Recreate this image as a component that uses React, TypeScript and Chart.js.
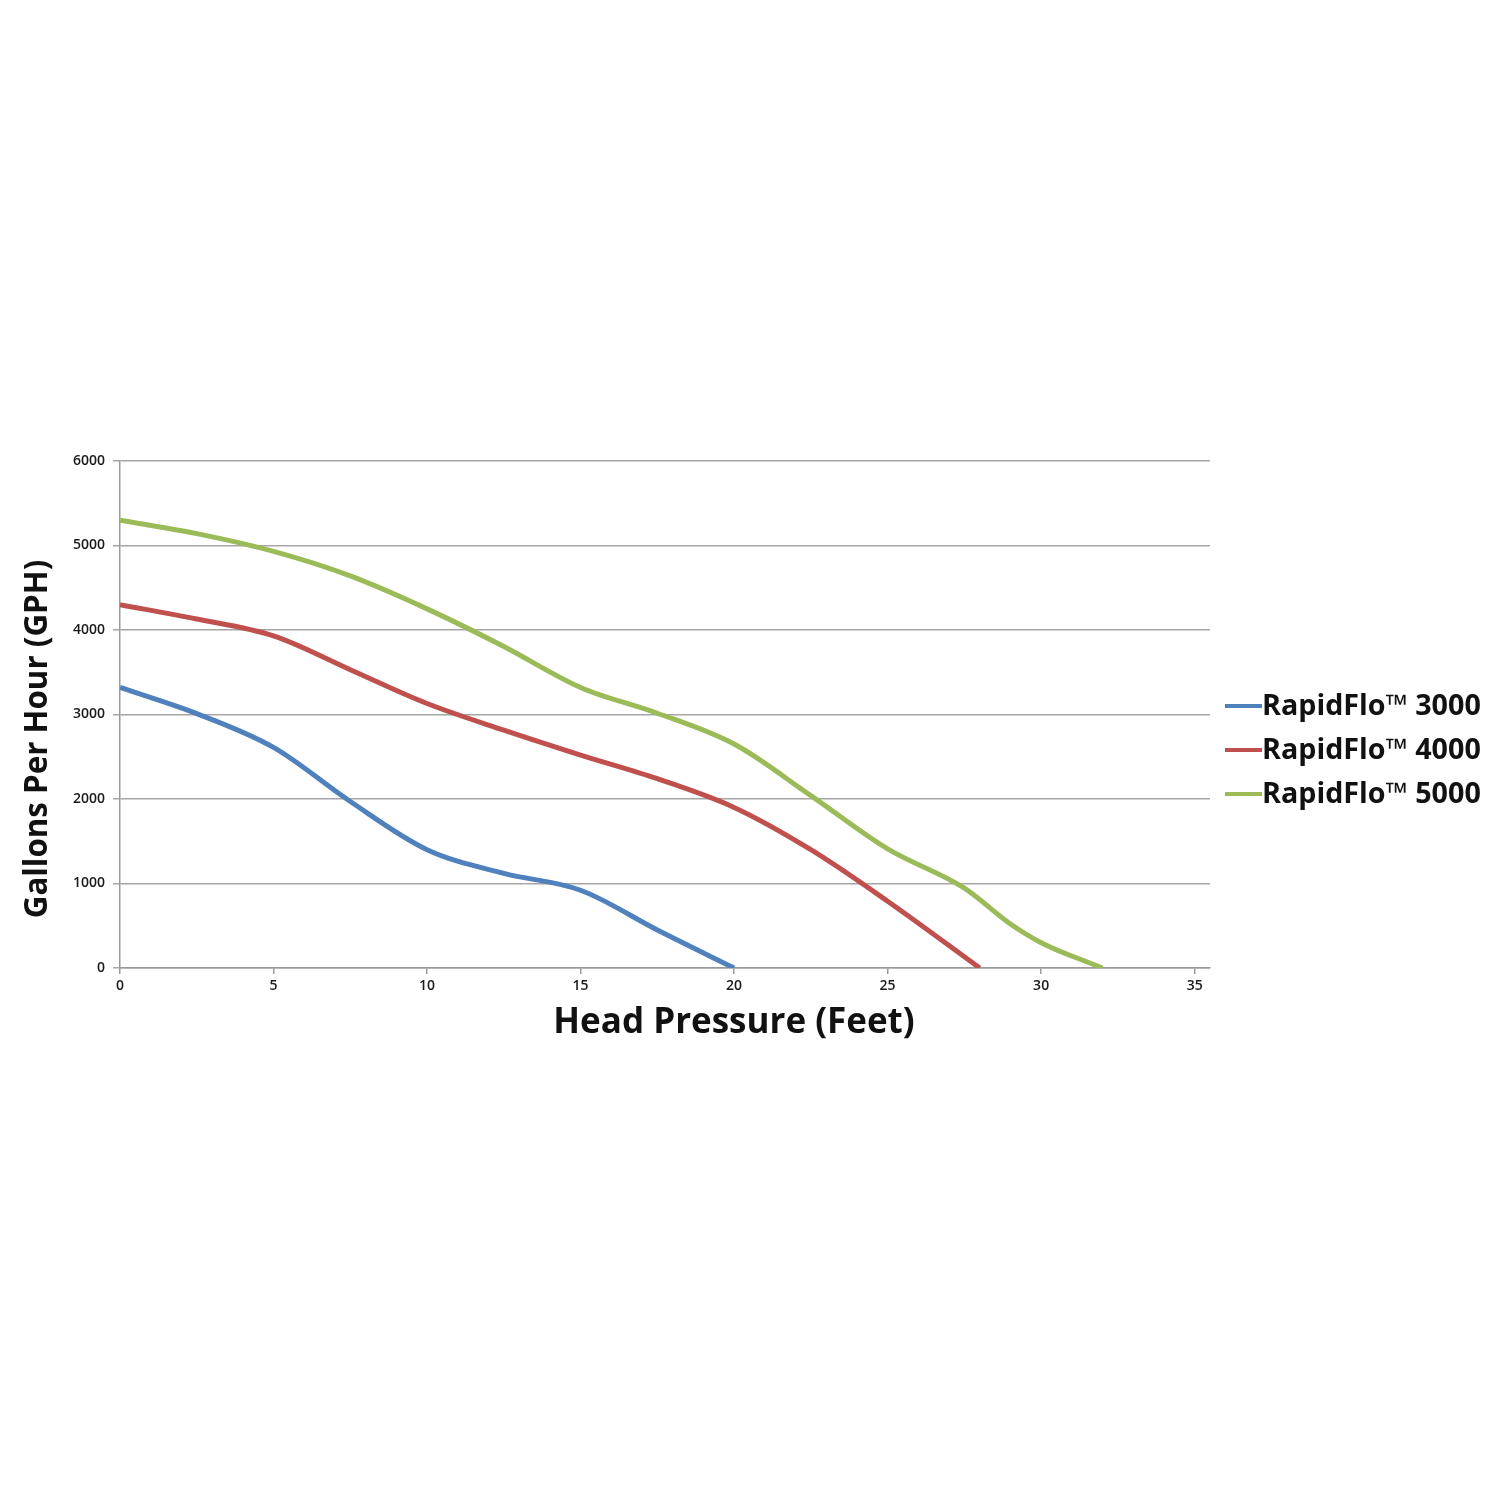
import React, { useEffect, useRef } from "react";
import { Chart, registerables } from "chart.js";

Chart.register(...registerables);

const seriesNames = ["RapidFlo™ 3000", "RapidFlo™ 4000", "RapidFlo™ 5000"];
const seriesColors = ["#4F81BD", "#C0504D", "#9BBB59"];

const headFeet3000 = [0, 2.5, 5, 7.5, 10, 12.5, 15, 17.5, 20];
const gph3000 = [3320, 3010, 2610, 1970, 1400, 1120, 920, 450, 0];

const headFeet4000 = [0, 2.5, 5, 7.5, 10, 12.5, 15, 17.5, 20, 22.5, 25, 28];
const gph4000 = [4300, 4130, 3930, 3530, 3130, 2815, 2520, 2240, 1900, 1400, 790, 0];

const headFeet5000 = [0, 2.5, 5, 7.5, 10, 12.5, 15, 17.5, 20, 22.5, 25, 27.5, 29, 30, 32];
const gph5000 = [5300, 5140, 4930, 4640, 4250, 3805, 3320, 3015, 2650, 2040, 1410, 945, 520, 300, 0];

const xTickValues = [0, 5, 10, 15, 20, 25, 30, 35];
const yTickValues = [0, 1000, 2000, 3000, 4000, 5000, 6000];
const xAxisMax = 35.5;
const xTitle = "Head Pressure (Feet)";
const yTitle = "Gallons Per Hour (GPH)";

const toPoints = (xs: number[], ys: number[]) => xs.map((x, i) => ({ x, y: ys[i] }));

const decorations = {
  id: "decorations",
  afterDraw(chart: any) {
    const ctx = chart.ctx;
    ctx.save();
    // axis titles
    ctx.fillStyle = "#111";
    ctx.textAlign = "center";
    ctx.textBaseline = "middle";
    ctx.font = "bold 35px 'Open Sans'";
    ctx.fillText(xTitle, 734, 1023);
    ctx.save();
    ctx.translate(38, 739);
    ctx.rotate(-Math.PI / 2);
    ctx.font = "bold 31.3px 'Open Sans'";
    ctx.fillText(yTitle, 0, 0);
    ctx.restore();
    // legend
    const startX = 1225;
    const lineLen = 37;
    const startY = 706;
    const step = 44;
    chart.data.datasets.forEach((ds: any, i: number) => {
      const y = startY + i * step;
      ctx.strokeStyle = ds.borderColor;
      ctx.lineWidth = 4;
      ctx.lineCap = "butt";
      ctx.beginPath();
      ctx.moveTo(startX, y);
      ctx.lineTo(startX + lineLen, y);
      ctx.stroke();
      ctx.fillStyle = "#111";
      ctx.font = "bold 28.7px 'Open Sans'";
      ctx.textAlign = "left";
      ctx.textBaseline = "middle";
      ctx.fillText(ds.label, startX + lineLen, y + 1);
    });
    ctx.restore();
  },
};

export default function App() {
  const ref = useRef<HTMLCanvasElement | null>(null);
  useEffect(() => {
    if (!ref.current) return;
    const datasets = [
      { label: seriesNames[0], data: toPoints(headFeet3000, gph3000) },
      { label: seriesNames[1], data: toPoints(headFeet4000, gph4000) },
      { label: seriesNames[2], data: toPoints(headFeet5000, gph5000) },
    ].map((d, i) => ({
      ...d,
      borderColor: seriesColors[i],
      backgroundColor: seriesColors[i],
      borderWidth: 5,
      pointRadius: 0,
      showLine: true,
      cubicInterpolationMode: "monotone" as const,
    }));
    const tickFont = { family: "'Open Sans'", size: 14, weight: "600" as const };
    const chart = new Chart(ref.current, {
      type: "scatter",
      data: { datasets },
      options: {
        responsive: false,
        animation: false,
        layout: { padding: { left: 0, right: 290, top: 461, bottom: 459 } },
        plugins: { legend: { display: false }, tooltip: { enabled: false } },
        scales: {
          x: {
            type: "linear",
            min: 0,
            max: xAxisMax,
            afterBuildTicks: (axis: any) => {
              axis.ticks = xTickValues.map((v) => ({ value: v }));
            },
            afterFit: (axis: any) => {
              axis.height = 73;
            },
            ticks: {
              autoSkip: false,
              maxRotation: 0,
              padding: 4,
              color: "#1a1a1a",
              font: tickFont,
              callback: (v: any) => String(v),
            },
            grid: { drawOnChartArea: false, drawTicks: true, tickLength: 6, color: "#9a9a9a", lineWidth: 1.5 },
            border: { display: true, color: "#9a9a9a", width: 1.5 },
            title: { display: false },
          },
          y: {
            type: "linear",
            min: 0,
            max: 6000,
            afterBuildTicks: (axis: any) => {
              axis.ticks = yTickValues.map((v) => ({ value: v }));
            },
            afterFit: (axis: any) => {
              axis.width = 120;
            },
            ticks: {
              padding: 8,
              color: "#1a1a1a",
              font: tickFont,
              callback: (v: any) => String(v),
            },
            grid: { drawOnChartArea: true, drawTicks: true, tickLength: 7, color: "#a6a6a6", lineWidth: 1.5 },
            border: { display: true, color: "#9a9a9a", width: 1.5 },
            title: { display: false },
          },
        },
      },
      plugins: [decorations],
    });
    return () => chart.destroy();
  }, []);
  return (
    <div style={{ position: "absolute", left: 0, top: 0, width: 1500, height: 1500, background: "#fff" }}>
      <canvas ref={ref} width={1500} height={1500} style={{ display: "block" }} />
    </div>
  );
}
